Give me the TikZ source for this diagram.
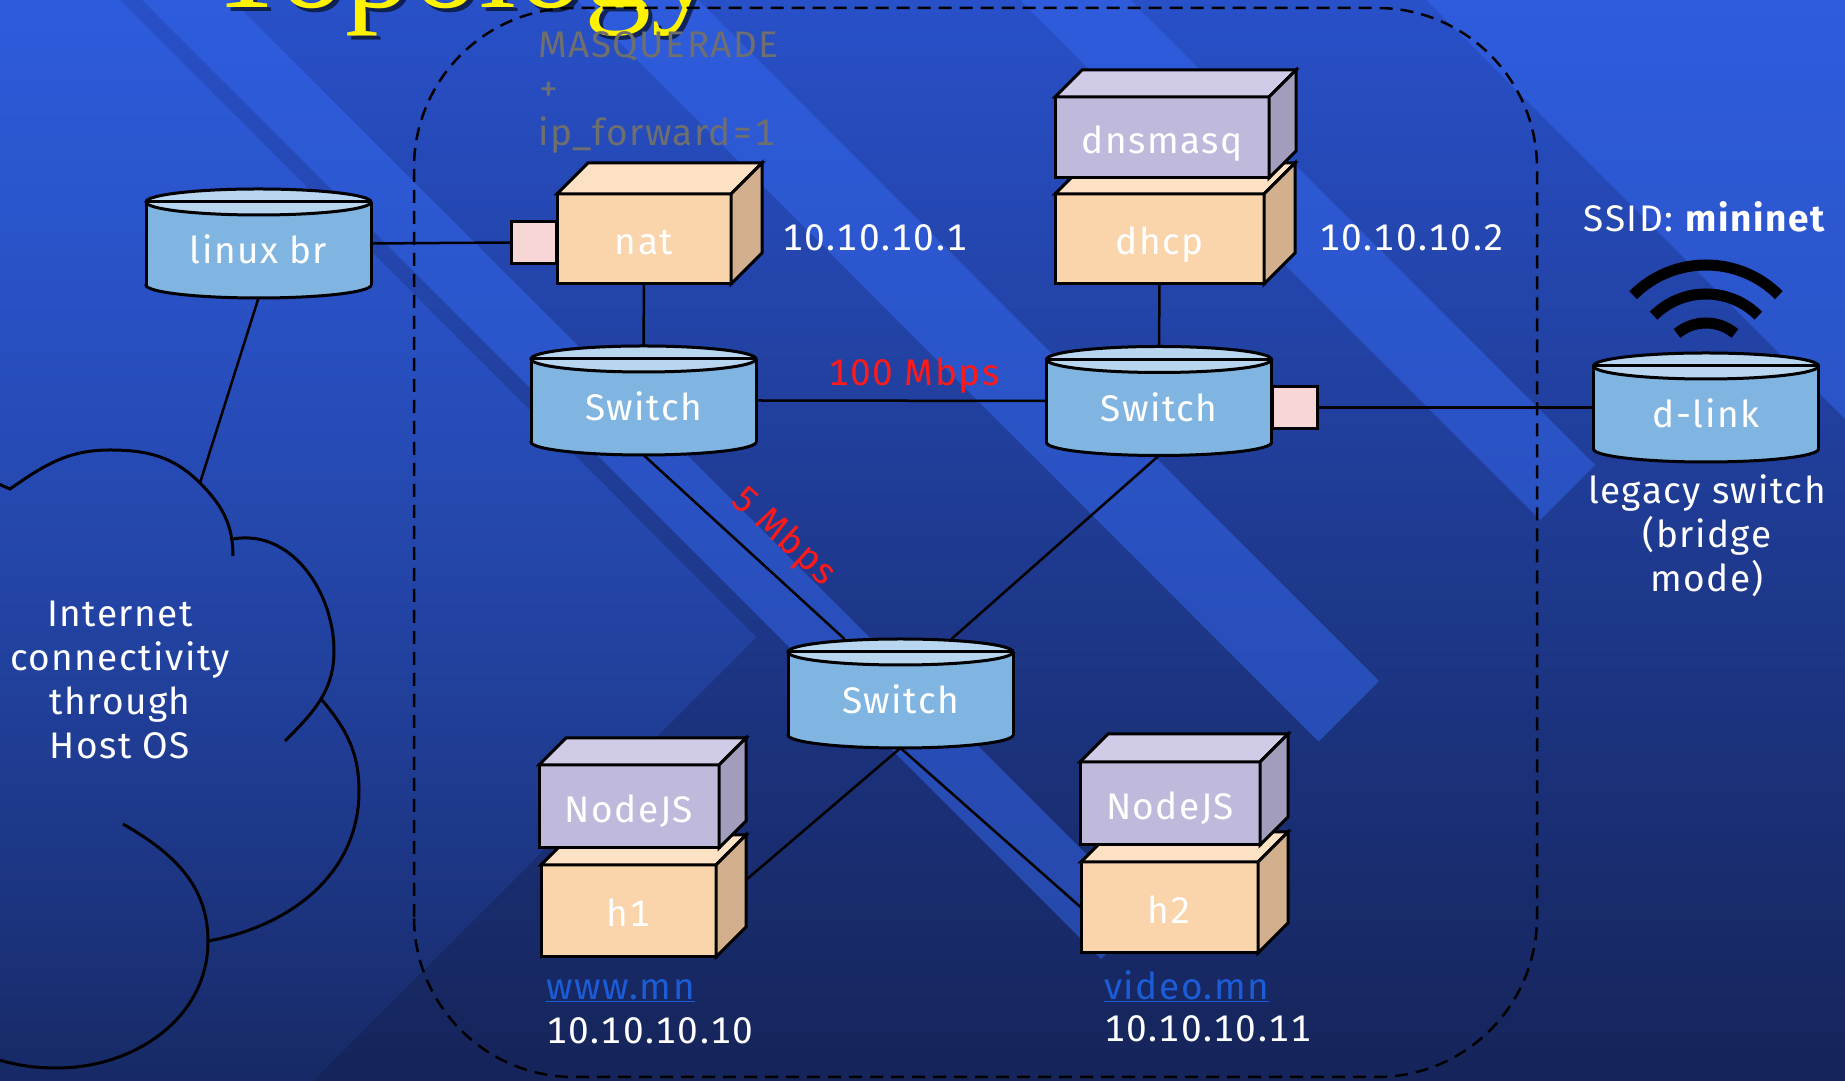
\documentclass[tikz,border=0pt]{standalone}
\usepackage{fontspec}
\setmainfont{Fira Sans}[LetterSpace=4, Numbers=Monospaced]
\newfontfamily\titlefont{Liberation Serif}
\usepackage{tikz}
\usetikzlibrary{positioning,calc,fadings}

\definecolor{slidetop}{HTML}{2850C8}
\definecolor{slidemid}{HTML}{2042AC}
\definecolor{slidebot}{HTML}{152459}
\definecolor{stripe}{HTML}{3468F0}
\definecolor{canbody}{HTML}{80B5E2}
\definecolor{cantop}{HTML}{B8D6F0}
\definecolor{orangefront}{HTML}{FAD4AA}
\definecolor{orangetop}{HTML}{FDE1C4}
\definecolor{orangeside}{HTML}{D3B08D}
\definecolor{purplefront}{HTML}{BFB9DC}
\definecolor{purpletop}{HTML}{D0CBE7}
\definecolor{purpleside}{HTML}{A29CBD}
\definecolor{portpink}{HTML}{F7D7D5}
\definecolor{natgrey}{HTML}{6F6F6F}
\definecolor{linkblue}{HTML}{1C5CD6}
\definecolor{ratered}{HTML}{FF1A1A}

\newcommand{\nodefont}{\fontsize{37}{44}\selectfont}

% switch drawn as a can, the named node sits on top of it
\newcommand{\switchcan}[4]{%
  \filldraw[canedge, fill=canbody] (#2,#3-41.5) ellipse [x radius=112.5pt, y radius=13pt];
  \fill[canbody] (#2-112.5,#3-41.5) rectangle (#2+112.5,#3+41.5);
  \draw[canedge] (#2-112.5,#3-41.5) -- (#2-112.5,#3+41.5)
                 (#2+112.5,#3-41.5) -- (#2+112.5,#3+41.5);
  \filldraw[canedge, fill=cantop] (#2,#3+41.5) ellipse [x radius=112.5pt, y radius=13pt];
  \draw[canedge] (#2-112.5,#3+41.5) -- (#2+112.5,#3+41.5);
  \node[can] (#1) at (#2,#3) {#4};
}

% host box: front face is the node, top and side faces hang off its anchors
\newcommand{\hostcube}[8]{%
  \node[cubefront, fill=#6front, minimum width=#4pt, minimum height=#5pt] (#1) at (#2,#3) {#8};
  \draw[cubeedge, fill=#6top] (#1.north west) -- ++(#7,#7)
    -- ([shift={(#7,#7)}]#1.north east) -- (#1.north east) -- cycle;
  \draw[cubeedge, fill=#6side] (#1.north east) -- ++(#7,#7)
    -- ([shift={(#7,#7)}]#1.south east) -- (#1.south east) -- cycle;
}

\begin{document}
\begin{tikzpicture}[
  x=1pt, y=1pt,
  every node/.style={font=\nodefont, text=white, inner sep=0pt},
  canedge/.style={draw=black, line width=3pt},
  can/.style={minimum width=225pt, minimum height=109pt, text height=49pt,
              text depth=8pt, outer sep=0pt},
  cubeedge/.style={draw=black, line width=3pt},
  cubefront/.style={draw=black, line width=3pt, outer sep=0pt,
                    text height=39pt, text depth=7pt},
  port/.style={draw=black, line width=2.5pt, fill=portpink, minimum width=45pt,
               minimum height=42pt, outer sep=0pt},
  wire/.style={line width=2.5pt},
  hostbox/.style={line width=2.5pt, rounded corners=160pt, dash pattern=on 13pt off 8pt},
  cloudline/.style={line width=3pt},
  wave/.style={line width=11pt},
  title/.style={anchor=base west, font=\titlefont\fontsize{134}{134}\selectfont},
]
  \useasboundingbox (0,0) rectangle (1845,1081);
  \clip (0,0) rectangle (1845,1081);

  % slide background with the diagonal stripes
  \shade[top color=slidetop, middle color=slidemid, bottom color=slidebot]
    (0,0) rectangle (1845,1081);
  \fill[stripe, opacity=0.5, path fading=south] (-1220,1101) -- (111,1101)
    -- (765.5,446.5) -- (100,-219) -- cycle;
  \foreach \a/\b/\d in {142/232/2060, 577/698/2060, 1020/1130/2060, 1426/3500/4000}
    \fill[stripe, opacity=0.5] (\a-20,1101) -- (\b-20,1101)
      -- ({(\b+\d)/2},{1081-(\d-\b)/2}) -- ({(\a+\d)/2},{1081-(\d-\a)/2}) -- cycle;

  % title, mostly above the page
  \node[title, text=black, opacity=0.6] at (210,1069) {Topology};
  \node[title, text=yellow] (heading) at (206,1073) {Topology};

  % mininet host boundary
  \draw[hostbox] (414,4) rectangle (1537,1073);

  % internet cloud
  \coordinate (cloudtop) at (200,598);
  \draw[cloudline] (-6,599) -- (10,592) to[out=35,in=180] (110,631)
    to[out=0,in=135] (cloudtop) to[out=-45,in=90] (233,525);
  \draw[cloudline] (233,542) to[out=10,in=90] (334,430) to[out=-90,in=45] (285,340);
  \draw[cloudline] (322,381) to[out=-50,in=90] (359,290) to[out=-90,in=10] (208,140);
  \draw[cloudline] (123,257) to[out=-30,in=90] (208,140) to[out=-90,in=0] (57,13)
    to[out=180,in=-15] (-5,22);
  \node[align=center] (inet) at (120,401.5) {Internet\\connectivity\\through\\Host OS};

  % switches
  \switchcan{linuxbr}{258.5}{837.5}{linux br}
  \switchcan{s1}{643.5}{680.5}{Switch}
  \switchcan{s2}{1159}{680}{Switch}
  \switchcan{s3}{900.5}{387.5}{Switch}
  \switchcan{dlink}{1706}{673.5}{d-link}

  % ports
  \node[port] (natport) at (534,838.5) {};
  \node[port] (s2port) at (1295,673.5) {};

  % hosts
  \hostcube{nat}{644}{842}{174}{90}{orange}{31}{nat}
  \hostcube{dhcp}{1159.5}{842}{209}{90}{orange}{31}{dhcp}
  \hostcube{dnsmasq}{1162}{943.5}{214}{81}{purple}{27}{dnsmasq}
  \hostcube{h1}{628.5}{170}{175}{92}{orange}{30}{h1}
  \hostcube{js1}{629}{274.5}{180}{83}{purple}{27}{NodeJS}
  \hostcube{h2}{1169.5}{173.5}{177}{91}{orange}{30}{h2}
  \hostcube{js2}{1170}{277.5}{180}{83}{purple}{28}{NodeJS}

  % links
  \draw[wire] (linuxbr.east) -- (natport.west);
  \draw[wire] (linuxbr.south) -- (cloudtop);
  \draw[wire] (nat.south) -- (s1.north);
  \draw[wire] (s1.east) -- (s2.west);
  \draw[wire] (dhcp.south) -- (s2.north);
  \draw[wire] (s2port.east) -- (dlink.west);
  \draw[wire] (s1.south) -- ([xshift=-56pt]s3.north);
  \draw[wire] ([xshift=51pt]s3.north) -- (s2.south);
  \draw[wire] (s3.south) -- ([shift={(30pt,31pt)}]h1.east);
  \draw[wire] (s3.south) -- (h2.west);

  % wifi symbol over the d-link
  \coordinate (wifi) at (1706,713);
  \foreach \r/\a in {103/45, 74/45, 45/50}
    \draw[wave] ([shift={(\a:\r)}]wifi) arc[start angle=\a, end angle={180-\a}, radius=\r];

  % labels
  \node[text=natgrey, align=left, anchor=west] (masq) at (538,988.5)
    {MASQUERADE\\+\\ip\_forward=1};
  \node[anchor=west] (natip) at (782,843) {10.10.10.1};
  \node[anchor=west] (dhcpip) at (1319,843) {10.10.10.2};
  \node (ssid) at (1705,864) {SSID: \textbf{mininet}};
  \node[align=center] (legacy) at (1707,545) {legacy switch\\(bridge\\mode)};
  \node[text=ratered] (fast) at (914,705) {100 Mbps};
  \node[text=ratered, rotate=-42] (slow) at (783,544) {5 Mbps};
  \node[anchor=west, text=linkblue] (www) at (546,90) {\underline{www.mn}};
  \node[anchor=west] (h1ip) at (546,50) {10.10.10.10};
  \node[anchor=west, text=linkblue] (video) at (1104,95) {\underline{video.mn}};
  \node[anchor=west] (h2ip) at (1104,52) {10.10.10.11};
\end{tikzpicture}
\end{document}
